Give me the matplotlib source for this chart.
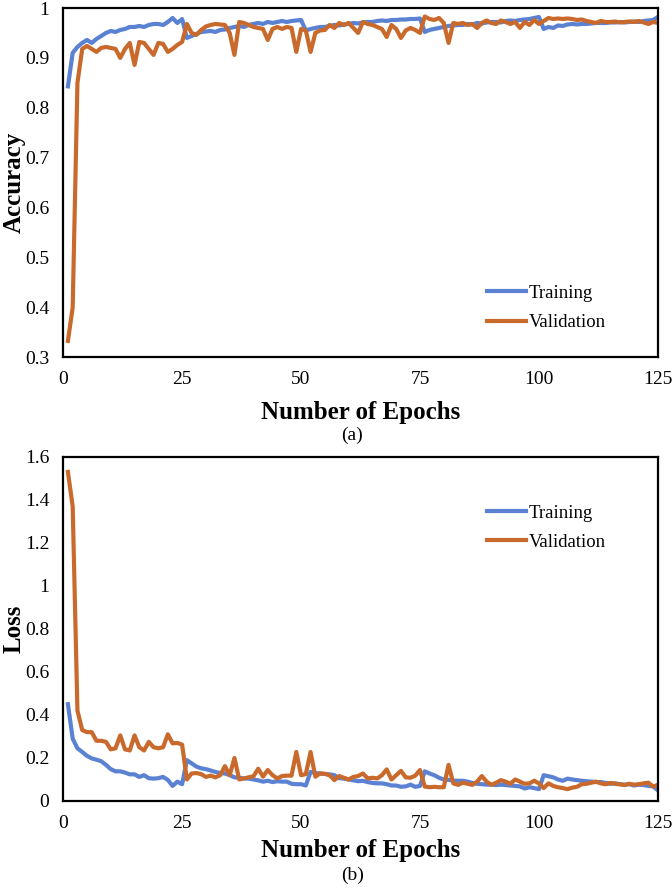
import matplotlib

matplotlib.use("Agg")
import matplotlib.pyplot as plt
from matplotlib.ticker import FuncFormatter, MultipleLocator

epochs = list(range(1, 126))

train_acc = [
    0.843, 0.910, 0.922, 0.930, 0.936, 0.930, 0.938, 0.944, 0.950, 0.954,
    0.952, 0.956, 0.958, 0.962, 0.962, 0.964, 0.962, 0.966, 0.968, 0.968,
    0.966, 0.972, 0.980, 0.970, 0.978, 0.940, 0.944, 0.948, 0.952, 0.953,
    0.954, 0.952, 0.956, 0.957, 0.960, 0.962, 0.964, 0.962, 0.966, 0.968,
    0.970, 0.968, 0.972, 0.970, 0.972, 0.974, 0.972, 0.974, 0.975, 0.976,
    0.955, 0.958, 0.960, 0.962, 0.962, 0.964, 0.966, 0.965, 0.967, 0.968,
    0.970, 0.969, 0.971, 0.972, 0.972, 0.974, 0.975, 0.974, 0.976, 0.976,
    0.977, 0.977, 0.978, 0.978, 0.979, 0.952, 0.956, 0.958, 0.960, 0.962,
    0.964, 0.965, 0.966, 0.966, 0.968, 0.967, 0.970, 0.969, 0.971, 0.972,
    0.972, 0.971, 0.974, 0.975, 0.974, 0.976, 0.977, 0.978, 0.980, 0.982,
    0.958, 0.962, 0.960, 0.965, 0.964, 0.967, 0.968, 0.967, 0.968, 0.968,
    0.969, 0.970, 0.970, 0.970, 0.971, 0.971, 0.972, 0.971, 0.972, 0.973,
    0.972, 0.974, 0.975, 0.976, 0.982,
]
val_acc = [
    0.333, 0.400, 0.850, 0.918, 0.924, 0.918, 0.912, 0.920, 0.922, 0.920,
    0.918, 0.900, 0.918, 0.930, 0.886, 0.932, 0.930, 0.918, 0.906, 0.930,
    0.928, 0.912, 0.918, 0.926, 0.932, 0.968, 0.950, 0.946, 0.956, 0.963,
    0.966, 0.968, 0.967, 0.966, 0.950, 0.906, 0.972, 0.970, 0.966, 0.962,
    0.960, 0.958, 0.936, 0.958, 0.962, 0.958, 0.962, 0.960, 0.912, 0.958,
    0.955, 0.912, 0.950, 0.955, 0.956, 0.966, 0.960, 0.970, 0.966, 0.970,
    0.960, 0.950, 0.972, 0.968, 0.966, 0.962, 0.958, 0.942, 0.966, 0.958,
    0.940, 0.955, 0.960, 0.956, 0.950, 0.983, 0.978, 0.976, 0.980, 0.970,
    0.930, 0.970, 0.968, 0.970, 0.966, 0.968, 0.960, 0.970, 0.975, 0.970,
    0.968, 0.975, 0.972, 0.968, 0.972, 0.960, 0.972, 0.966, 0.976, 0.968,
    0.974, 0.980, 0.978, 0.979, 0.978, 0.979, 0.978, 0.976, 0.977, 0.974,
    0.972, 0.970, 0.974, 0.972, 0.972, 0.973, 0.971, 0.972, 0.973, 0.972,
    0.974, 0.971, 0.968, 0.972, 0.970,
]

train_loss = [
    0.450, 0.290, 0.245, 0.228, 0.210, 0.198, 0.192, 0.185, 0.168, 0.148,
    0.138, 0.138, 0.132, 0.124, 0.124, 0.112, 0.120, 0.106, 0.104, 0.106,
    0.112, 0.098, 0.070, 0.090, 0.078, 0.190, 0.175, 0.160, 0.152, 0.148,
    0.142, 0.135, 0.130, 0.128, 0.120, 0.110, 0.108, 0.105, 0.104, 0.100,
    0.096, 0.090, 0.094, 0.088, 0.092, 0.090, 0.090, 0.080, 0.078, 0.078,
    0.072, 0.135, 0.130, 0.128, 0.126, 0.124, 0.120, 0.106, 0.104, 0.100,
    0.096, 0.092, 0.094, 0.088, 0.084, 0.082, 0.082, 0.078, 0.072, 0.072,
    0.066, 0.068, 0.076, 0.066, 0.070, 0.138, 0.128, 0.120, 0.108, 0.100,
    0.098, 0.095, 0.094, 0.094, 0.090, 0.084, 0.080, 0.078, 0.076, 0.076,
    0.074, 0.076, 0.074, 0.072, 0.070, 0.068, 0.058, 0.064, 0.060, 0.055,
    0.120, 0.115, 0.110, 0.100, 0.094, 0.104, 0.100, 0.097, 0.094, 0.092,
    0.090, 0.088, 0.088, 0.084, 0.080, 0.082, 0.078, 0.076, 0.078, 0.072,
    0.076, 0.074, 0.070, 0.068, 0.050,
]
val_loss = [
    1.530, 1.370, 0.420, 0.330, 0.320, 0.320, 0.280, 0.280, 0.275, 0.240,
    0.245, 0.305, 0.240, 0.235, 0.305, 0.250, 0.235, 0.275, 0.250, 0.245,
    0.250, 0.310, 0.268, 0.270, 0.262, 0.100, 0.128, 0.130, 0.125, 0.112,
    0.118, 0.110, 0.120, 0.162, 0.120, 0.200, 0.100, 0.105, 0.110, 0.115,
    0.150, 0.113, 0.144, 0.120, 0.105, 0.116, 0.118, 0.118, 0.228, 0.120,
    0.125, 0.228, 0.113, 0.128, 0.126, 0.120, 0.097, 0.116, 0.108, 0.100,
    0.112, 0.116, 0.128, 0.105, 0.108, 0.105, 0.120, 0.147, 0.100, 0.120,
    0.140, 0.110, 0.108, 0.118, 0.144, 0.067, 0.064, 0.066, 0.064, 0.064,
    0.168, 0.082, 0.075, 0.085, 0.080, 0.075, 0.090, 0.116, 0.090, 0.075,
    0.085, 0.097, 0.090, 0.080, 0.100, 0.090, 0.080, 0.082, 0.094, 0.082,
    0.060, 0.082, 0.070, 0.064, 0.060, 0.055, 0.062, 0.066, 0.078, 0.080,
    0.085, 0.090, 0.082, 0.078, 0.084, 0.080, 0.078, 0.074, 0.080, 0.076,
    0.078, 0.082, 0.085, 0.067, 0.075,
]

series_labels = ["Training", "Validation"]
x_ticks = [0, 25, 50, 75, 100, 125]

BLUE = "#5B82D2"
ORANGE = "#C96A2C"
FONT = "Liberation Serif"


def style_axes(ax, ylim, ystep, xlabel_y):
    ax.set_xlim(0, 125)
    ax.set_ylim(*ylim)
    ax.set_xticks(x_ticks)
    ax.yaxis.set_major_locator(MultipleLocator(ystep))
    ax.yaxis.set_major_formatter(FuncFormatter(lambda v, _: "%g" % round(v, 2)))
    ax.tick_params(length=0, labelsize=14, pad=10)
    for lab in ax.get_xticklabels() + ax.get_yticklabels():
        lab.set_fontfamily(FONT)
    for sp in ax.spines.values():
        sp.set_linewidth(1.6)
        sp.set_color("black")
    ax.set_xlabel("Number of Epochs", fontfamily=FONT, fontsize=18,
                  fontweight="bold")
    ax.xaxis.set_label_coords(0.5, xlabel_y)


def panel(ax, train, val, ylabel, ylim, ystep, legend_y, xlabel_y):
    ax.plot(epochs, train, color=BLUE, lw=3, label=series_labels[0])
    ax.plot(epochs, val, color=ORANGE, lw=3, label=series_labels[1])
    style_axes(ax, ylim, ystep, xlabel_y)
    ax.set_ylabel(ylabel, fontfamily=FONT, fontsize=18, fontweight="bold",
                  va="center")
    ax.yaxis.set_label_coords(-0.082, 0.5)
    ax.legend(loc="upper left", bbox_to_anchor=(0.712, legend_y),
              frameon=False, prop={"family": FONT, "size": 13.5},
              handlelength=2.1, handletextpad=0.15, labelspacing=0.66,
              borderpad=0, borderaxespad=0)


def main() -> None:
    fig = plt.figure(figsize=(6.72, 8.89), dpi=100)
    ax1 = fig.add_axes([0.094, 0.598, 0.885, 0.393])
    ax2 = fig.add_axes([0.094, 0.099, 0.885, 0.387])

    panel(ax1, train_acc, val_acc, "Accuracy", (0.3, 1.0), 0.1, 0.208, -0.124)
    panel(ax2, train_loss, val_loss, "Loss", (0, 1.6), 0.2, 0.862, -0.11)

    fig.text(0.524, 1 - 435 / 889, "(a)", ha="center", va="center",
             fontfamily=FONT, fontsize=14)
    fig.text(0.524, 1 - 875 / 889, "(b)", ha="center", va="center",
             fontfamily=FONT, fontsize=14)

    fig.savefig("out.png", dpi=100)


if __name__ == "__main__":
    main()
